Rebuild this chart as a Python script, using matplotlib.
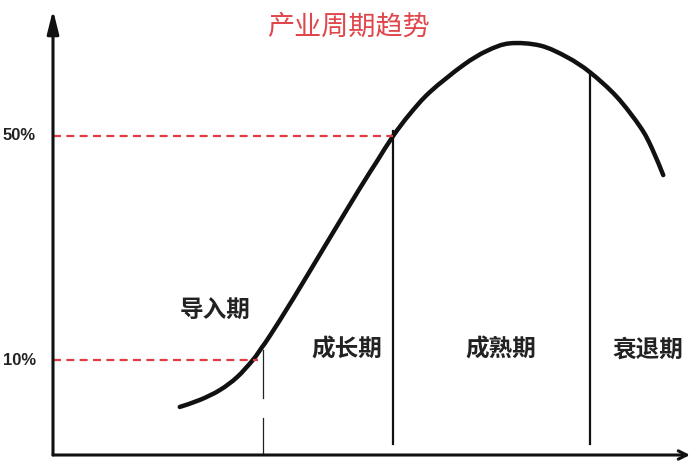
# coding:utf-8
import matplotlib
matplotlib.use('Agg')
import matplotlib.pyplot as plt
from matplotlib.path import Path
from matplotlib.patches import PathPatch

plt.rcParams['font.family'] = ['Noto Sans CJK SC', 'DejaVu Sans']

# 产业生命周期曲线 (时间, 水平)
curve_x = [19.9, 23.1, 26.2, 28.9, 31.4, 32.8, 34.1, 37.7, 43.0, 48.2, 50.9, 53.4,
           56.0, 59.2, 64.4, 68.1, 71.7, 76.5, 80.7, 84.3, 88.5, 92.2, 94.0, 95.8]
curve_y = [10.8, 12.4, 14.6, 17.5, 21.4, 24.2, 26.9, 35.1, 47.7, 60.0, 66.1, 71.7,
           76.6, 81.6, 87.6, 90.8, 92.5, 92.0, 89.4, 86.0, 80.5, 73.7, 69.0, 62.9]

# 阶段
stage_names = ['导入期', '成长期', '成熟期', '衰退期']
stage_label_x = [25.4, 46.2, 70.3, 93.4]
stage_label_y = [32.4, 23.6, 23.6, 23.6]
boundary_x = [33.0, 53.4, 84.3]
boundary_top = [23.6, 72.8, 86.0]

# 参考水平
level_names = ['10%', '50%']
level_y = [21.3, 71.7]
level_end_x = [32.2, 53.4]

title = '产业周期趋势'

fig = plt.figure(figsize=(6.92, 4.63), dpi=100)
ax = fig.add_axes([53 / 692, 8 / 463, 637 / 692, 445 / 463])
ax.set_xlim(0, 100)
ax.set_ylim(0, 100)
ax.axis('off')

# 坐标轴 + 箭头
ax.annotate('', xy=(0, 100), xytext=(0, 0),
            arrowprops=dict(arrowstyle='-|>,head_length=1.4,head_width=0.35',
                            color='#111111', lw=2.2, shrinkA=0, shrinkB=0),
            annotation_clip=False)
ax.annotate('', xy=(100, 0), xytext=(0, 0),
            arrowprops=dict(arrowstyle='->,head_length=0.6,head_width=0.3',
                            color='#111111', lw=2.2, shrinkA=0, shrinkB=0),
            annotation_clip=False)

# 曲线: 经过读取点的平滑贝塞尔路径 (Catmull-Rom)
pts = list(zip(curve_x, curve_y))
verts = [pts[0]]
codes = [Path.MOVETO]
n = len(pts)
for i in range(n - 1):
    p0 = pts[i - 1] if i > 0 else pts[i]
    p1 = pts[i]
    p2 = pts[i + 1]
    p3 = pts[i + 2] if i + 2 < n else pts[i + 1]
    c1 = (p1[0] + (p2[0] - p0[0]) / 6, p1[1] + (p2[1] - p0[1]) / 6)
    c2 = (p2[0] - (p3[0] - p1[0]) / 6, p2[1] - (p3[1] - p1[1]) / 6)
    verts += [c1, c2, p2]
    codes += [Path.CURVE4] * 3
ax.add_patch(PathPatch(Path(verts, codes), facecolor='none', edgecolor='#111111',
                       lw=3.2, capstyle='round', joinstyle='round'))

# 阶段分界线
ax.plot([boundary_x[0], boundary_x[0]], [boundary_top[0], 12.8], color='#222222', lw=0.9)
ax.plot([boundary_x[0], boundary_x[0]], [8.3, 0], color='#222222', lw=0.9)
for bx, bt in zip(boundary_x[1:], boundary_top[1:]):
    ax.plot([bx, bx], [2.4, bt], color='#111111', lw=1.6)

# 红色虚线
for name, ly, lx in zip(level_names, level_y, level_end_x):
    ax.plot([0, lx], [ly, ly], color='#e03c46', lw=1.6, dashes=(3.6, 2.4))
    ax.text(-5.3, ly, name, ha='center', va='center', fontsize=12,
            fontweight='bold', family=['Liberation Sans', 'DejaVu Sans'],
            color='#222222', clip_on=False)

for name, tx, ty in zip(stage_names, stage_label_x, stage_label_y):
    ax.text(tx, ty, name, ha='center', va='center', fontsize=17,
            fontweight='bold', color='#222222')

ax.text(46.3, 96.2, title, ha='center', va='center', fontsize=19.5,
        color='#e0474c')

plt.savefig('out.png', dpi=100)
